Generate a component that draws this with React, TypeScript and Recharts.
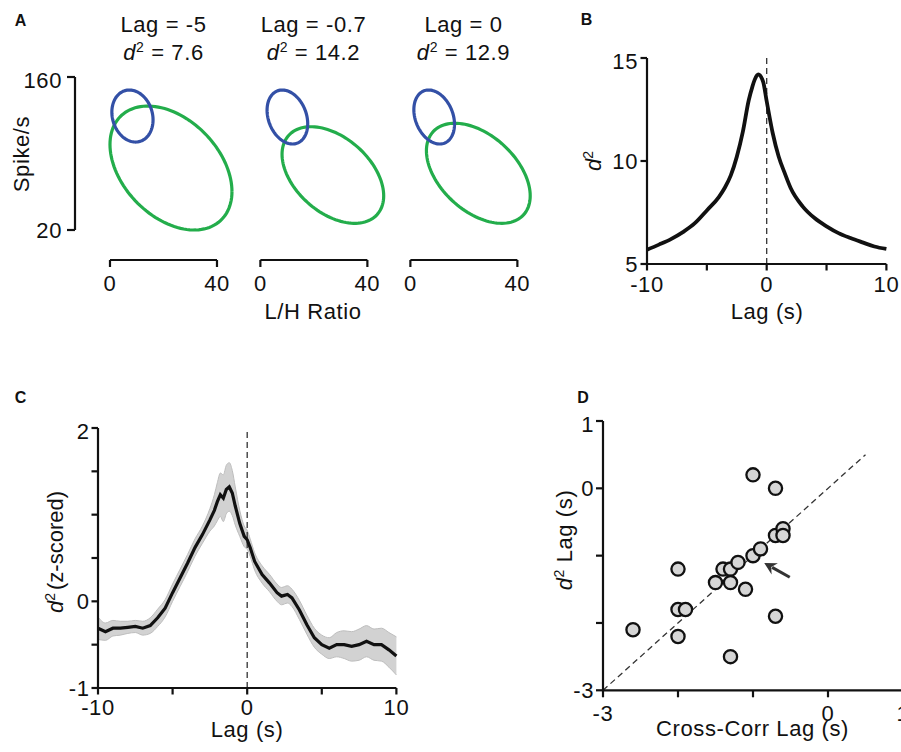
import React from 'react'
import {
  LineChart,
  Line,
  XAxis,
  YAxis,
  ReferenceLine,
  ComposedChart,
  Area,
  ScatterChart,
  Scatter,
} from 'recharts'

const FONT = '"Liberation Sans", Arial, Helvetica, sans-serif'
const INK = '#111'

// A: ellipse fits per lag (center, half-extent, correlation), in data units
const lagLabels = ['-5', '-0.7', '0']
const d2Labels = ['7.6', '14.2', '12.9']
const blueCx = [8.4, 10.1, 8.9]
const blueRx = [7.7, 7.6, 7.6]
const blueCy = [124.3, 123.4, 123.4]
const blueRy = [23.8, 24.7, 24.7]
const blueRho = [-0.15, -0.25, -0.27]
const greenCx = [22.8, 27.1, 25.4]
const greenRx = [22.8, 19.0, 19.4]
const greenCy = [76.7, 70.3, 71.9]
const greenRy = [56.7, 44.2, 45.8]
const greenRho = [-0.38, -0.43, -0.45]
const ratioTicks = [0, 40]
const spikeTicks = [20, 160]

// B: d2 vs lag
const lagB = [-10, -9, -8, -7, -6, -5, -4, -3.5, -3, -2.5, -2, -1.5, -1.2, -1, -0.7, -0.3, 0, 0.5, 1, 1.5, 2, 3, 4, 5, 6, 7, 8, 9, 10]
const d2B = [5.69, 5.94, 6.21, 6.55, 6.98, 7.6, 8.25, 8.7, 9.3, 10.2, 11.4, 12.95, 13.6, 13.95, 14.2, 13.85, 12.9, 11.36, 10.22, 9.42, 8.69, 7.8, 7.23, 6.83, 6.5, 6.26, 6.05, 5.85, 5.73]
const lagTicks = [-10, -5, 0, 5, 10]
const d2Ticks = [5, 10, 15]

// C: z-scored d2, mean and sem
const lagC = [-10, -9.5, -9, -8.5, -8, -7.5, -7, -6.5, -6, -5.5, -5, -4.5, -4, -3.5, -3, -2.5, -2.2, -2, -1.8, -1.6, -1.4, -1.2, -1, -0.8, -0.5, -0.2, 0, 0.2, 0.5, 1, 1.5, 2, 2.3, 2.7, 3, 3.5, 4, 4.5, 5, 5.5, 6, 6.5, 7, 7.5, 8, 8.5, 9, 9.5, 10]
const meanC = [-0.31, -0.35, -0.31, -0.31, -0.3, -0.29, -0.31, -0.28, -0.19, -0.08, 0.1, 0.27, 0.44, 0.62, 0.77, 0.94, 1.05, 1.15, 1.23, 1.19, 1.29, 1.32, 1.25, 1.1, 0.9, 0.75, 0.71, 0.62, 0.46, 0.31, 0.21, 0.1, 0.06, 0.08, 0.04, -0.1, -0.27, -0.42, -0.5, -0.54, -0.5, -0.5, -0.52, -0.5, -0.46, -0.5, -0.5, -0.56, -0.63]
const semC = [0.13, 0.1, 0.09, 0.08, 0.07, 0.07, 0.08, 0.09, 0.1, 0.1, 0.1, 0.1, 0.1, 0.1, 0.1, 0.13, 0.18, 0.22, 0.25, 0.27, 0.28, 0.28, 0.26, 0.22, 0.15, 0.12, 0.11, 0.1, 0.1, 0.1, 0.1, 0.1, 0.1, 0.1, 0.1, 0.11, 0.11, 0.11, 0.11, 0.12, 0.14, 0.16, 0.17, 0.18, 0.18, 0.18, 0.19, 0.2, 0.22]
const zTicks = [-1, -0.5, 0, 0.5, 1, 1.5, 2]

// D: per-session lags
const crossLag = [-2.6, -2.0, -2.0, -1.9, -2.0, -1.5, -1.4, -1.3, -1.3, -1.2, -1.1, -1.3, -1.0, -0.9, -1.0, -0.7, -0.7, -0.6, -0.6, -0.7]
const d2Lag = [-2.1, -1.2, -1.8, -1.8, -2.2, -1.4, -1.2, -1.2, -1.4, -1.1, -1.5, -2.5, -1.0, -0.9, 0.2, 0.0, -0.7, -0.6, -0.7, -1.9]
const dTicks = [-3, -2, -1, 0, 1]

const tickStyle = { fill: INK, fontSize: 22, fontFamily: FONT, letterSpacing: 0.6 }
const axisStroke = { stroke: INK, strokeWidth: 2.2 }

function box(x0: number, y0: number, x1: number, y1: number, l: number, t: number, r: number, b: number) {
  return {
    style: { position: 'absolute' as const, left: x0 - l, top: y0 - t },
    width: x1 - x0 + l + r,
    height: y1 - y0 + t + b,
  }
}

function ellipse(cx: number, rx: number, cy: number, ry: number, rho: number) {
  const phi = Math.acos(rho)
  return Array.from({ length: 121 }, (_, i) => {
    const t = (i / 120) * 2 * Math.PI
    return { x: cx + rx * Math.cos(t), y: cy + ry * Math.cos(t + phi) }
  })
}

function Label({ x, y, rotate, size = 22, bold, spacing = 0.6, children }: any) {
  return (
    <div
      style={{
        position: 'absolute',
        left: x,
        top: y,
        transform: `translate(-50%, -50%)${rotate ? ' rotate(-90deg)' : ''}`,
        fontSize: size,
        lineHeight: 1,
        whiteSpace: 'nowrap',
        fontWeight: bold ? 700 : 400,
        letterSpacing: spacing,
        color: INK,
      }}
    >
      {children}
    </div>
  )
}

const D2 = ({ gap = 0 }: { gap?: number }) => (
  <>
    <i>d</i>
    <span style={{ fontSize: 14, position: 'relative', top: -8, marginRight: gap }}>2</span>
  </>
)

const fmtOnly = (keep: number[]) => (v: number) => (keep.includes(v) ? String(v) : '')

function arrowShape(p: any) {
  const { x1, y1, x2, y2 } = p
  const ang = Math.atan2(y2 - y1, x2 - x1)
  const len = 12
  const w = 6.5
  const bx = x2 - len * Math.cos(ang)
  const by = y2 - len * Math.sin(ang)
  const nx = Math.sin(ang)
  const ny = -Math.cos(ang)
  const pts = [
    [x2, y2],
    [bx + w * nx, by + w * ny],
    [x2 - 8 * Math.cos(ang), y2 - 8 * Math.sin(ang)],
    [bx - w * nx, by - w * ny],
  ]
  return (
    <g>
      <line x1={x1} y1={y1} x2={bx + 3 * Math.cos(ang)} y2={by + 3 * Math.sin(ang)} stroke="#333" strokeWidth={3} />
      <polygon points={pts.map((q) => q.join(',')).join(' ')} fill="#333" />
    </g>
  )
}

// panel A geometry: x 0..40 spans 107px, y 20..160 spans 77..230, bracket sits at 260
const A_X0 = [110, 260, 410]
const A_KX = 2.675
const A_KY = 153 / 140
const A_TOP = 77
const A_BAR = 260
const A_XMIN = [-13.08, -5, -5]
const A_XMAX = 50
const A_YMIN = 20 - (A_BAR - 230) / A_KY

function PanelA() {
  return (
    <>
      {A_X0.map((x0, i) => {
        const xMin = A_XMIN[i]
        const first = i === 0
        const b = box(x0 + xMin * A_KX, A_TOP, x0 + A_XMAX * A_KX, A_BAR, first ? 70 : 10, 10, 10, 40)
        return (
          <React.Fragment key={i}>
            <div style={b.style}>
              <LineChart width={b.width} height={b.height} margin={{ top: 10, right: 10, bottom: 0, left: first ? 0 : 10 }}>
                <XAxis
                  type="number"
                  dataKey="x"
                  domain={[xMin, A_XMAX]}
                  ticks={ratioTicks}
                  height={40}
                  tickSize={7}
                  tickMargin={8}
                  axisLine={false}
                  tickLine={axisStroke}
                  tick={tickStyle}
                />
                <YAxis
                  type="number"
                  dataKey="y"
                  domain={[A_YMIN, 160]}
                  ticks={spikeTicks}
                  hide={!first}
                  width={70}
                  tickSize={8}
                  tickMargin={5}
                  axisLine={false}
                  tickLine={axisStroke}
                  tick={tickStyle}
                />
                <ReferenceLine
                  segment={[
                    { x: 0, y: A_YMIN },
                    { x: 40, y: A_YMIN },
                  ]}
                  ifOverflow="visible"
                  {...axisStroke}
                />
                {first && (
                  <ReferenceLine
                    segment={[
                      { x: xMin, y: 20 },
                      { x: xMin, y: 160 },
                    ]}
                    ifOverflow="visible"
                    {...axisStroke}
                  />
                )}
                <Line
                  data={ellipse(greenCx[i], greenRx[i], greenCy[i], greenRy[i], greenRho[i])}
                  dataKey="y"
                  type="linear"
                  stroke="#23ad4b"
                  strokeWidth={3.2}
                  dot={false}
                  isAnimationActive={false}
                />
                <Line
                  data={ellipse(blueCx[i], blueRx[i], blueCy[i], blueRy[i], blueRho[i])}
                  dataKey="y"
                  type="linear"
                  stroke="#3350a6"
                  strokeWidth={3.2}
                  dot={false}
                  isAnimationActive={false}
                />
              </LineChart>
            </div>
            <Label x={x0 + 20 * A_KX} y={24.5}>Lag = {lagLabels[i]}</Label>
            <Label x={x0 + 20 * A_KX} y={53}>
              <D2 /> = {d2Labels[i]}
            </Label>
          </React.Fragment>
        )
      })}
      <Label x={20.5} y={21} size={16} bold spacing={0}>A</Label>
      <Label x={21.5} y={153.5} rotate>Spike/s</Label>
      <Label x={313} y={311.5}>L/H Ratio</Label>
    </>
  )
}

function PanelB() {
  const rows = lagB.map((lag, i) => ({ lag, d2: d2B[i] }))
  const b = box(647.3, 58.3, 886.7, 264.3, 60, 10, 14, 40)
  return (
    <>
      <div style={b.style}>
        <LineChart width={b.width} height={b.height} data={rows} margin={{ top: 10, right: 14, bottom: 0, left: 0 }}>
          <XAxis
            dataKey="lag"
            type="number"
            domain={[-10, 10]}
            ticks={lagTicks}
            tickFormatter={fmtOnly([-10, 0, 10])}
            height={40}
            tickSize={6.5}
            tickMargin={6}
            axisLine={axisStroke}
            tickLine={axisStroke}
            tick={tickStyle}
          />
          <YAxis
            type="number"
            domain={[5, 15]}
            ticks={d2Ticks}
            width={60}
            tickSize={6.5}
            tickMargin={2.5}
            axisLine={axisStroke}
            tickLine={axisStroke}
            tick={tickStyle}
          />
          <ReferenceLine x={0} stroke="#333" strokeWidth={1.3} strokeDasharray="6 4" />
          <Line dataKey="d2" type="monotone" stroke={INK} strokeWidth={3.8} dot={false} isAnimationActive={false} />
        </LineChart>
      </div>
      <Label x={586.5} y={20} size={16} bold spacing={0}>B</Label>
      <Label x={594} y={161} rotate spacing={0}>
        <D2 />
      </Label>
      <Label x={767} y={312}>Lag (s)</Label>
    </>
  )
}

function PanelC() {
  const rows = lagC.map((lag, i) => ({ lag, mean: meanC[i], band: [meanC[i] - semC[i], meanC[i] + semC[i]] }))
  const b = box(98.3, 428.3, 396.7, 688.3, 50, 10, 20, 40)
  return (
    <>
      <div style={b.style}>
        <ComposedChart width={b.width} height={b.height} data={rows} margin={{ top: 10, right: 20, bottom: 0, left: 0 }}>
          <XAxis
            dataKey="lag"
            type="number"
            domain={[-10, 10]}
            ticks={lagTicks}
            tickFormatter={fmtOnly([-10, 0, 10])}
            height={40}
            tickSize={6.5}
            tickMargin={5}
            axisLine={axisStroke}
            tickLine={axisStroke}
            tick={tickStyle}
          />
          <YAxis
            type="number"
            domain={[-1, 2]}
            ticks={zTicks}
            tickFormatter={fmtOnly([-1, 0, 2])}
            width={50}
            tickSize={6.5}
            tickMargin={2}
            axisLine={axisStroke}
            tickLine={axisStroke}
            tick={tickStyle}
          />
          <Area dataKey="band" type="monotone" fill="#d2d2d2" fillOpacity={1} stroke="#bdbdbd" strokeWidth={1} isAnimationActive={false} />
          <ReferenceLine x={0} stroke="#333" strokeWidth={1.3} strokeDasharray="6 4" />
          <Line dataKey="mean" type="linear" stroke={INK} strokeWidth={3.2} dot={false} isAnimationActive={false} />
        </ComposedChart>
      </div>
      <Label x={20.5} y={397.5} size={16} bold spacing={0}>C</Label>
      <Label x={56} y={552} rotate spacing={0}>
        <D2 gap={3} />
        (z-scored)
      </Label>
      <Label x={247} y={730}>Lag (s)</Label>
    </>
  )
}

function PanelD() {
  const rows = crossLag.map((x, i) => ({ x, y: d2Lag[i] }))
  const b = box(603.3, 420.7, 903.3, 690, 50, 10, 20, 40)
  return (
    <>
      <div style={b.style}>
        <ScatterChart width={b.width} height={b.height} margin={{ top: 10, right: 20, bottom: 0, left: 0 }}>
          <XAxis
            dataKey="x"
            type="number"
            domain={[-3, 1]}
            ticks={dTicks}
            tickFormatter={fmtOnly([-3, 0, 1])}
            height={40}
            tickSize={7}
            tickMargin={8}
            axisLine={axisStroke}
            tickLine={axisStroke}
            tick={tickStyle}
          />
          <YAxis
            dataKey="y"
            type="number"
            domain={[-3, 1]}
            ticks={dTicks}
            tickFormatter={fmtOnly([-3, 0, 1])}
            width={50}
            tickSize={7}
            tickMargin={2}
            axisLine={axisStroke}
            tickLine={axisStroke}
            tick={tickStyle}
          />
          <ReferenceLine
            segment={[
              { x: -3, y: -3 },
              { x: 0.5, y: 0.5 },
            ]}
            stroke="#333"
            strokeWidth={1.3}
            strokeDasharray="6 4"
          />
          <Scatter
            data={rows}
            isAnimationActive={false}
            shape={(p: any) => <circle cx={p.cx} cy={p.cy} r={6.6} fill="#d6d6d6" stroke={INK} strokeWidth={2.3} />}
          />
          <ReferenceLine
            segment={[
              { x: -0.51, y: -1.32 },
              { x: -0.85, y: -1.11 },
            ]}
            shape={arrowShape}
          />
        </ScatterChart>
      </div>
      <Label x={583} y={398} size={16} bold spacing={0}>D</Label>
      <Label x={565} y={540} rotate>
        <D2 /> Lag (s)
      </Label>
      <Label x={752.5} y={729}>Cross-Corr Lag (s)</Label>
    </>
  )
}

export default function App() {
  return (
    <div
      style={{
        position: 'fixed',
        left: 0,
        top: 0,
        width: 901,
        height: 752,
        overflow: 'hidden',
        background: '#fff',
        fontFamily: FONT,
      }}
    >
      <PanelA />
      <PanelB />
      <PanelC />
      <PanelD />
    </div>
  )
}
